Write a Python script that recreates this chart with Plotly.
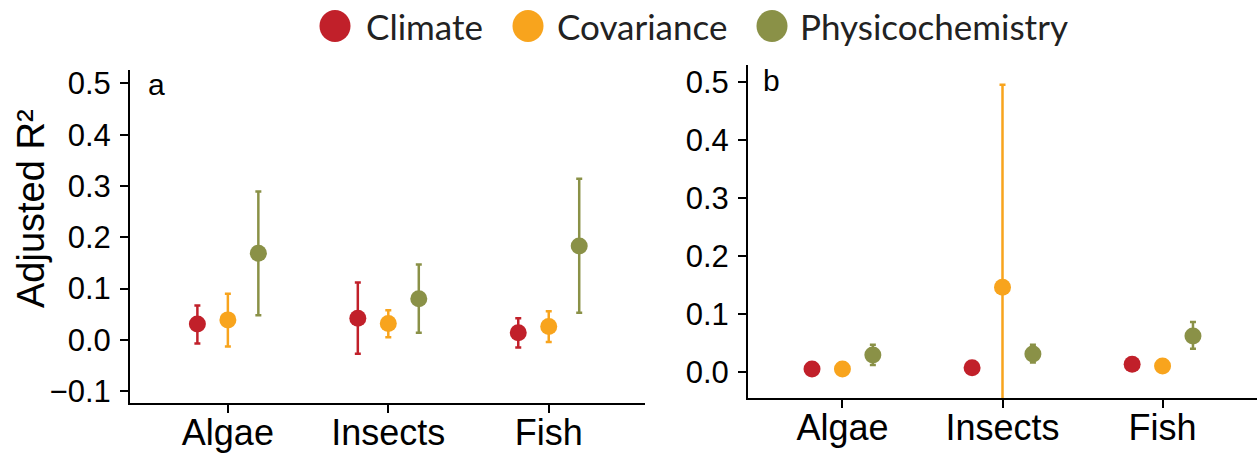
import plotly.graph_objects as go

categories = ["Algae", "Insects", "Fish"]
series = ["Climate", "Covariance", "Physicochemistry"]
colors = ["#C1202A", "#F8A41D", "#8A9147"]

# Panel a: values, upper and lower bounds
a_climate = [0.031, 0.042, 0.014]
a_climate_hi = [0.067, 0.112, 0.042]
a_climate_lo = [-0.007, -0.027, -0.015]
a_cov = [0.039, 0.032, 0.026]
a_cov_hi = [0.090, 0.058, 0.056]
a_cov_lo = [-0.013, 0.005, -0.004]
a_phys = [0.169, 0.080, 0.183]
a_phys_hi = [0.289, 0.147, 0.314]
a_phys_lo = [0.048, 0.014, 0.053]

# Panel b
b_climate = [0.005, 0.007, 0.013]
b_climate_hi = [0.005, 0.013, 0.013]
b_climate_lo = [0.005, 0.001, 0.013]
b_cov = [0.005, 0.146, 0.010]
b_cov_hi = [0.005, 0.495, 0.010]
b_cov_lo = [0.005, -0.20, 0.010]
b_phys = [0.029, 0.031, 0.062]
b_phys_hi = [0.047, 0.047, 0.086]
b_phys_lo = [0.012, 0.016, 0.040]

offsets = [-0.19, 0.0, 0.19]

panels = [
    ("x", "y", [(a_climate, a_climate_hi, a_climate_lo), (a_cov, a_cov_hi, a_cov_lo), (a_phys, a_phys_hi, a_phys_lo)]),
    ("x2", "y2", [(b_climate, b_climate_hi, b_climate_lo), (b_cov, b_cov_hi, b_cov_lo), (b_phys, b_phys_hi, b_phys_lo)]),
]

fig = go.Figure()
for pi, (xa, ya, data) in enumerate(panels):
    for si, (vals, hi, lo) in enumerate(data):
        xs = [i + offsets[si] for i in range(len(categories))]
        fig.add_trace(go.Scatter(
            x=xs, y=vals, mode="markers", name=series[si],
            xaxis=xa, yaxis=ya, showlegend=False,
            marker=dict(color=colors[si], size=17, line=dict(width=0)),
            error_y=dict(type="data", symmetric=False,
                         array=[h - v for h, v in zip(hi, vals)],
                         arrayminus=[v - l for v, l in zip(vals, lo)],
                         color=colors[si], thickness=2.5, width=3),
        ))

W, H = 1257, 455
axis_common = dict(showline=True, linecolor="black", linewidth=2, ticks="outside",
                   ticklen=8, tickwidth=2, tickcolor="black", showgrid=False, zeroline=False,
                   mirror=False, automargin=False)
font_family = "Liberation Sans, Arial, sans-serif"
legend_family = "Lato, Open Sans, sans-serif"

# Custom legend (large circles like the reference)
legend_circle_cx = [335, 528, 772]
legend_text_x = [364, 555, 798]
legend_cy = 26
shapes = []
annotations = []
for cx, tx, name, col in zip(legend_circle_cx, legend_text_x, series, colors):
    shapes.append(dict(type="circle", xref="paper", yref="paper",
                       x0=(cx - 15.5) / W, x1=(cx + 15.5) / W,
                       y0=1 - (legend_cy + 16) / H, y1=1 - (legend_cy - 16) / H,
                       fillcolor=col, line=dict(width=0)))
    annotations.append(dict(text=name, x=tx / W, y=1 - legend_cy / H, xref="paper", yref="paper",
                            xanchor="left", yanchor="middle", showarrow=False,
                            font=dict(size=35, family=legend_family, color="#222222")))

annotations += [
    dict(text="a", x=146 / W, y=1 - 84 / H, xref="paper", yref="paper",
         xanchor="left", yanchor="middle", showarrow=False, font=dict(size=30)),
    dict(text="b", x=761 / W, y=1 - 80 / H, xref="paper", yref="paper",
         xanchor="left", yanchor="middle", showarrow=False, font=dict(size=30)),
    dict(text="Adjusted R\u00b2", x=31 / W, y=1 - 209 / H, xref="paper", yref="paper",
         xanchor="center", yanchor="middle", textangle=-90, showarrow=False,
         font=dict(size=38)),
]

fig.update_layout(
    width=W, height=H,
    margin=dict(l=0, r=0, t=0, b=0),
    paper_bgcolor="white", plot_bgcolor="white",
    font=dict(family=font_family, color="black"),
    showlegend=False,
    xaxis=dict(domain=[130 / W, 645 / W], range=[-0.61, 2.6], tickvals=[0, 1, 2],
               ticktext=categories, tickfont=dict(size=36), anchor="y",
               ticklabelstandoff=-11, **axis_common),
    yaxis=dict(domain=[1 - 403 / H, 1 - 70 / H], range=[-0.123, 0.526],
               tickvals=[-0.1, 0, 0.1, 0.2, 0.3, 0.4, 0.5],
               ticktext=["\u22120.1", "0.0", "0.1", "0.2", "0.3", "0.4", "0.5"],
               tickfont=dict(size=31), anchor="x", ticklabelstandoff=3,
               **axis_common),
    xaxis2=dict(domain=[748 / W, 1.0], range=[-0.59, 2.59], tickvals=[0, 1, 2],
                ticktext=categories, tickfont=dict(size=36), anchor="y2",
                ticklabelstandoff=-11, **axis_common),
    yaxis2=dict(domain=[1 - 398 / H, 1 - 65 / H], range=[-0.045, 0.529],
                tickvals=[0, 0.1, 0.2, 0.3, 0.4, 0.5],
                ticktext=["0.0", "0.1", "0.2", "0.3", "0.4", "0.5"],
                tickfont=dict(size=31), anchor="x2", ticklabelstandoff=3,
                **axis_common),
    shapes=shapes,
    annotations=annotations,
)

fig.write_html("out.html")
